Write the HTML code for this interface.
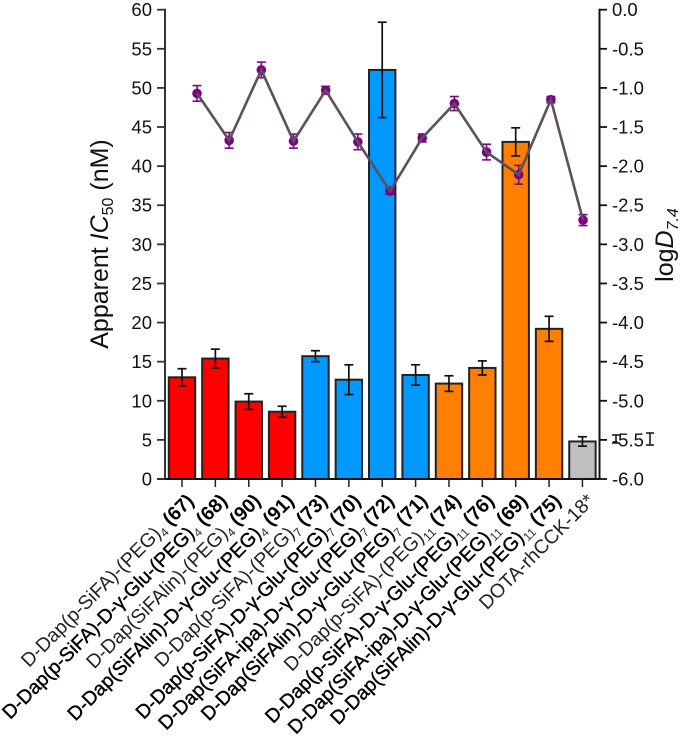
<!DOCTYPE html>
<html>
<head>
<meta charset="utf-8">
<style>
html,body{margin:0;padding:0;background:#fff;width:685px;height:741px;overflow:hidden}
svg{display:block;font-family:"Liberation Sans",Arial,sans-serif}
</style>
</head>
<body>
<svg id="chart" width="685" height="741" viewBox="0 0 685 741" xmlns="http://www.w3.org/2000/svg">
<g id="bars"></g>
<g id="axes"></g>
<g id="logd"></g>
<g id="labels"></g>
<text transform="translate(108,244) rotate(-90)" text-anchor="middle" font-size="25" fill="#111">Apparent <tspan font-style="italic">IC</tspan><tspan font-size="16" dy="5">50</tspan><tspan dy="-5"> (nM)</tspan></text>
<text transform="translate(673,245) rotate(-90)" text-anchor="middle" font-size="25" fill="#111">log<tspan font-style="italic">D</tspan><tspan font-size="16" font-style="italic" dy="5">7.4</tspan></text>
</svg>
<script>
var labelCores = ['D-Dap(p-SiFA)-(PEG)','D-Dap(p-SiFA)-D-γ-Glu-(PEG)','D-Dap(SiFAlin)-(PEG)','D-Dap(SiFAlin)-D-γ-Glu-(PEG)','D-Dap(p-SiFA)-(PEG)','D-Dap(p-SiFA)-D-γ-Glu-(PEG)','D-Dap(SiFA-ipa)-D-γ-Glu-(PEG)','D-Dap(SiFAlin)-D-γ-Glu-(PEG)','D-Dap(p-SiFA)-(PEG)','D-Dap(p-SiFA)-D-γ-Glu-(PEG)','D-Dap(SiFA-ipa)-D-γ-Glu-(PEG)','D-Dap(SiFAlin)-D-γ-Glu-(PEG)','DOTA-rhCCK-18*'];
var labelSubs = ['4','4','4','4','7','7','7','7','11','11','11','11',''];
var labelIds = ['67','68','90','91','73','70','72','71','74','76','69','75',''];
var labelBold = [0,1,0,1,0,1,1,1,0,1,1,1,0];
var barGroups = ['red','red','red','red','blue','blue','blue','blue','orange','orange','orange','orange','grey'];
var ic50Values = [13.0,15.4,9.9,8.6,15.7,12.7,52.3,13.3,12.2,14.2,43.1,19.2,4.8];
var ic50Errors = [1.1,1.2,1.0,0.7,0.7,1.9,6.1,1.3,1.0,0.9,1.8,1.6,0.6];
var logdValues = [-1.07,-1.67,-0.77,-1.68,-1.03,-1.69,-2.32,-1.64,-1.20,-1.82,-2.11,-1.15,-2.69];
var logdErrors = [0.10,0.10,0.10,0.09,0.05,0.10,0.04,0.05,0.09,0.10,0.12,0.04,0.07];
var leftTicks = [0,5,10,15,20,25,30,35,40,45,50,55,60];
var rightTicks = ['0.0','-0.5','-1.0','-1.5','-2.0','-2.5','-3.0','-3.5','-4.0','-4.5','-5.0','-5.5','-6.0'];
var groupColors = {red:'#ff0000',blue:'#0099ff',orange:'#ff8000',grey:'#bfbfbf'};

var NS = 'http://www.w3.org/2000/svg';
function yLeft(v){return 479 - v*(479-9.7)/60;}
function yRight(v){return 9.7 - v*(479-9.7)/6;}
function xBar(i){return 182 + i*33.37;}
function xPoint(i){return 197 + i*32.17;}
function mk(tag,attrs,parent){
  var e=document.createElementNS(NS,tag);
  for(var k in attrs){e.setAttribute(k,attrs[k]);}
  parent.appendChild(e);
  return e;
}
function ln(x1,y1,x2,y2,c,w,parent){
  return mk('line',{x1:x1,y1:y1,x2:x2,y2:y2,stroke:c,'stroke-width':w},parent);
}
var barsG=document.getElementById('bars');
var axesG=document.getElementById('axes');
var logdG=document.getElementById('logd');
var labelsG=document.getElementById('labels');

ic50Values.forEach(function(v,i){
  var x=xBar(i), y=yLeft(v), e=ic50Errors[i];
  var r=mk('rect',{x:x-13.2,y:y,width:26.4,height:479-y,fill:groupColors[barGroups[i]],stroke:'#222','stroke-width':2},barsG);
  
  
  var g=mk('g',{},barsG);
  
  
  ln(x,yLeft(v+e),x,yLeft(v-e),'#111',1.7,g);
  ln(x-4.5,yLeft(v+e),x+4.5,yLeft(v+e),'#111',1.7,g);
  ln(x-4.5,yLeft(v-e),x+4.5,yLeft(v-e),'#111',1.7,g);
});

ln(165,8.8,165,480,'#333',2,axesG);
ln(599.5,8.8,599.5,480,'#111',2,axesG);
ln(157,479,599.5,479,'#111',2,axesG);
leftTicks.forEach(function(t){
  var y=yLeft(t);
  ln(157,y,165,y,'#333',1.8,axesG);
  var s=mk('text',{x:152,y:y+6.5,'text-anchor':'end','font-size':18.5,fill:'#111'},axesG);
  
  
  s.textContent=t;
});
rightTicks.forEach(function(t){
  var y=yRight(parseFloat(t));
  ln(599.5,y,607,y,'#111',1.8,axesG);
  var s=mk('text',{x:612,y:y+6.5,'font-size':18.5,fill:'#111'},axesG);
  
  
  s.textContent=t;
});
ic50Values.forEach(function(v,i){
  ln(xBar(i),479,xBar(i),487,'#222',1.5,axesG);
});

var pts=logdValues.map(function(v,i){return xPoint(i)+','+yRight(v);}).join(' ');
logdValues.forEach(function(v,i){
  var x=xPoint(i), e=logdErrors[i];
  var g=mk('g',{},logdG);
  
  
  ln(x,yRight(v+e),x,yRight(v-e),'#7a0a80',1.6,g);
  ln(x-4.5,yRight(v+e),x+4.5,yRight(v+e),'#7a0a80',1.6,g);
  ln(x-4.5,yRight(v-e),x+4.5,yRight(v-e),'#7a0a80',1.6,g);
  var c=mk('circle',{cx:x,cy:yRight(v),r:4.8,fill:'#800080'},logdG);
  
  
});
var line=mk('polyline',{points:pts,fill:'none',stroke:'#5c4f62','stroke-width':2.6,'stroke-linejoin':'miter'},logdG);



var stray=mk('g',{},logdG);


ln(616,435,616,443,'#111',1.5,stray);
ln(612,435,620,435,'#111',1.5,stray);
ln(612,443,620,443,'#111',1.5,stray);
ln(650,433,650,445,'#111',1.5,stray);
ln(646,433,654,433,'#111',1.5,stray);
ln(646,445,654,445,'#111',1.5,stray);

labelCores.forEach(function(txt,i){
  var x=xBar(i)+13, y=502;
  var t=mk('text',{'text-anchor':'end',transform:'translate('+x+','+y+') rotate(-45)','font-size':19.5,fill:labelBold[i]?'#000':'#222'},labelsG);
  
  
  if(labelBold[i]){t.setAttribute('stroke','#000');t.setAttribute('stroke-width','0.4');}
  var a=mk('tspan',{},t);
  a.textContent=txt;
  if(labelSubs[i]){
    var b=mk('tspan',{'font-size':12,dy:4},t);
    b.textContent=labelSubs[i];
    if(labelBold[i]){b.setAttribute('stroke','none');b.setAttribute('fill','#333');}
  }
  if(labelIds[i]){
    var c=mk('tspan',{dy:-4,dx:5,'font-weight':'bold',fill:'#000',stroke:'none'},t);
    c.textContent='('+labelIds[i]+')';
  }
});
</script>
</body>
</html>
